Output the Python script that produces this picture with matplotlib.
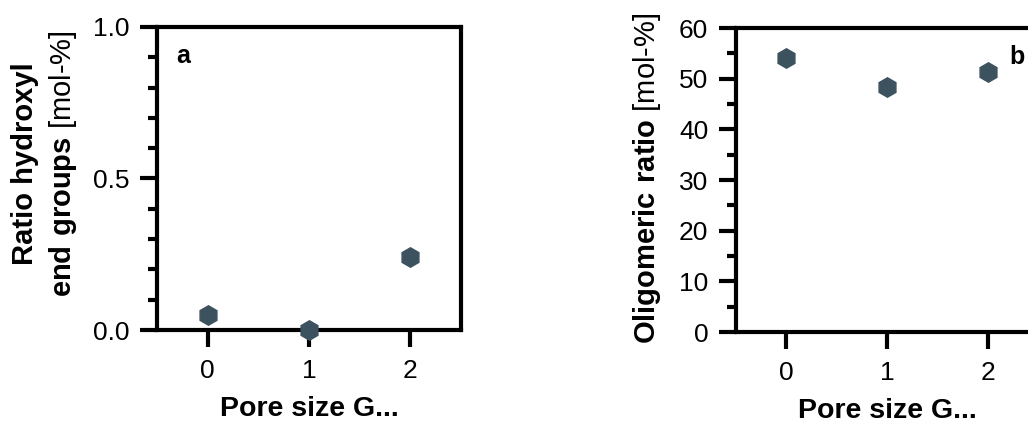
import matplotlib
matplotlib.use('Agg')
import matplotlib.pyplot as plt
from matplotlib.ticker import MultipleLocator

plt.rcParams['font.family'] = 'Liberation Sans'
plt.rcParams['mathtext.fontset'] = 'custom'
plt.rcParams['mathtext.rm'] = 'Liberation Sans'
plt.rcParams['mathtext.bf'] = 'Liberation Sans:bold'

# pore size classes (G0..G2)
pore_size = [0, 1, 2]
hydroxyl_ratio = [0.05, 0.0, 0.24]
oligomer_ratio = [54.0, 48.4, 51.3]

marker_color = '#3d525f'
W, H = 1028, 423
fig = plt.figure(figsize=(W / 100, H / 100), dpi=100)

def style_axes(ax):
    for s in ax.spines.values():
        s.set_linewidth(3)
    ax.tick_params(which='major', length=12, width=3, labelsize=19, pad=8)
    ax.tick_params(which='minor', length=6.5, width=3)
    ax.tick_params(axis='x', which='major', pad=9)
    ax.set_xlim(-0.5, 2.5)
    ax.set_xticks(pore_size)
    ax.set_xlabel('Pore size G...', fontsize=20.5, fontweight='bold', labelpad=9)

# ---- panel a ----
ax1 = fig.add_axes([157 / W, 1 - 330 / H, 304 / W, 303 / H])
ax1.plot(pore_size, hydroxyl_ratio, 'h', ms=14, color=marker_color, clip_on=False, zorder=5)
ax1.set_ylim(0, 1.0)
ax1.yaxis.set_major_locator(MultipleLocator(0.5))
ax1.yaxis.set_minor_locator(MultipleLocator(0.1))
ax1.yaxis.set_major_formatter(matplotlib.ticker.FormatStrFormatter('%.1f'))
style_axes(ax1)
ax1.text(0.085, 0.905, 'a', transform=ax1.transAxes, fontsize=18, fontweight='bold',
         ha='center', va='center')
# two-line y label, bold name with regular unit
fig.text(25 / W, 1 - 164 / H, 'Ratio hydroxyl', rotation=90, fontsize=21,
         fontweight='bold', ha='center', va='center')
fig.text(63 / W, 1 - 164 / H, r'$\mathbf{end\ groups}$ [mol-%]', rotation=90,
         fontsize=21, ha='center', va='center')

# ---- panel b ----
ax2 = fig.add_axes([736 / W, 1 - 332 / H, 302 / W, 304 / H])
ax2.plot(pore_size, oligomer_ratio, 'h', ms=14, color=marker_color, zorder=5)
ax2.set_ylim(0, 60)
ax2.yaxis.set_major_locator(MultipleLocator(10))
ax2.yaxis.set_minor_locator(MultipleLocator(5))
style_axes(ax2)
ax2.text(0.93, 0.905, 'b', transform=ax2.transAxes, fontsize=18, fontweight='bold',
         ha='center', va='center')
fig.text(647 / W, 1 - 178 / H, r'$\mathbf{Oligomeric\ ratio}$ [mol-%]', rotation=90,
         fontsize=21, ha='center', va='center')

fig.savefig('out.png', dpi=100, facecolor='white')
